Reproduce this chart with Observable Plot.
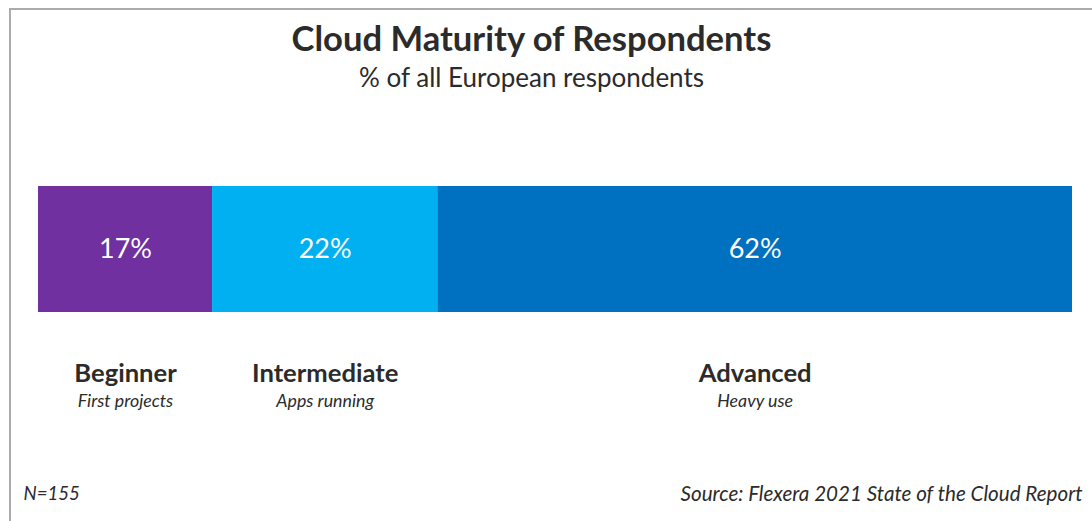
<!DOCTYPE html>
<html>
<head>
<meta charset="utf-8">
<script src="https://cdn.jsdelivr.net/npm/d3@7"></script>
<script src="https://cdn.jsdelivr.net/npm/@observablehq/plot@0.6"></script>
<style>
  html, body { margin: 0; padding: 0; background: #fff; }
  #wrap { position: relative; width: 1092px; height: 521px; overflow: hidden; }
  #border { position: absolute; left: 9px; top: 8px; right: -2px; bottom: -2px; border-top: 2px solid #ababab; border-left: 2px solid #ababab; pointer-events: none; }
  svg { font-family: Lato, "Open Sans", sans-serif; }
</style>
</head>
<body>
<div id="wrap"><div id="border"></div></div>
<script>
const categories = ["Beginner", "Intermediate", "Advanced"];
const descriptions = ["First projects", "Apps running", "Heavy use"];
const values = [17, 22, 62];
const colors = ["#7030A0", "#00B0F0", "#0070C0"];
const title = "Cloud Maturity of Respondents";
const subtitle = "% of all European respondents";
const note = "N=155";
const source = "Source: Flexera 2021 State of the Cloud Report";

const data = categories.map((c, i) => ({
  category: c, description: descriptions[i], value: values[i], row: "all", label: values[i] + "%"
}));
const total = d3.sum(values);
const ink = "#2b2b2b";

const chart = Plot.plot({
  width: 1092,
  height: 521,
  marginLeft: 38,
  marginRight: 20,
  marginTop: 0,
  marginBottom: 0,
  style: { background: "transparent", fontFamily: "Lato, 'Open Sans', sans-serif" },
  x: { domain: [0, total], axis: null },
  y: { domain: ["all"], range: [186, 312], padding: 0, axis: null },
  color: { domain: categories, range: colors },
  marks: [
    Plot.barX(data, Plot.stackX({ x: "value", y: "row", fill: "category", order: null })),
    Plot.text(data, Plot.stackX({ x: "value", y: "row", text: "label", order: null, fill: "white", fontSize: 27 })),
    Plot.text(data, Plot.stackX({ x: "value", y: "row", text: "category", order: null, fill: ink, fontSize: 25.6, fontWeight: "bold", dy: 124 })),
    Plot.text(data, Plot.stackX({ x: "value", y: "row", text: "description", order: null, fill: ink, fontSize: 17.8, fontStyle: "italic", dy: 152 })),
    Plot.text([title], { frameAnchor: "top", lineAnchor: "middle", text: d => d, dx: -24, dy: 39, fontSize: 34.6, fontWeight: "bold", fill: ink }),
    Plot.text([subtitle], { frameAnchor: "top", lineAnchor: "middle", text: d => d, dx: -24, dy: 78, fontSize: 26, fill: ink }),
    Plot.text([note], { frameAnchor: "bottom-left", lineAnchor: "middle", text: d => d, dx: -15, dy: -27, fontSize: 18.6, fontStyle: "italic", fill: ink, textAnchor: "start" }),
    Plot.text([source], { frameAnchor: "bottom-right", lineAnchor: "middle", text: d => d, dx: 10, dy: -27, fontSize: 20.6, fontStyle: "italic", fill: ink, textAnchor: "end" })
  ]
});
document.getElementById("wrap").prepend(chart);
</script>
</body>
</html>
